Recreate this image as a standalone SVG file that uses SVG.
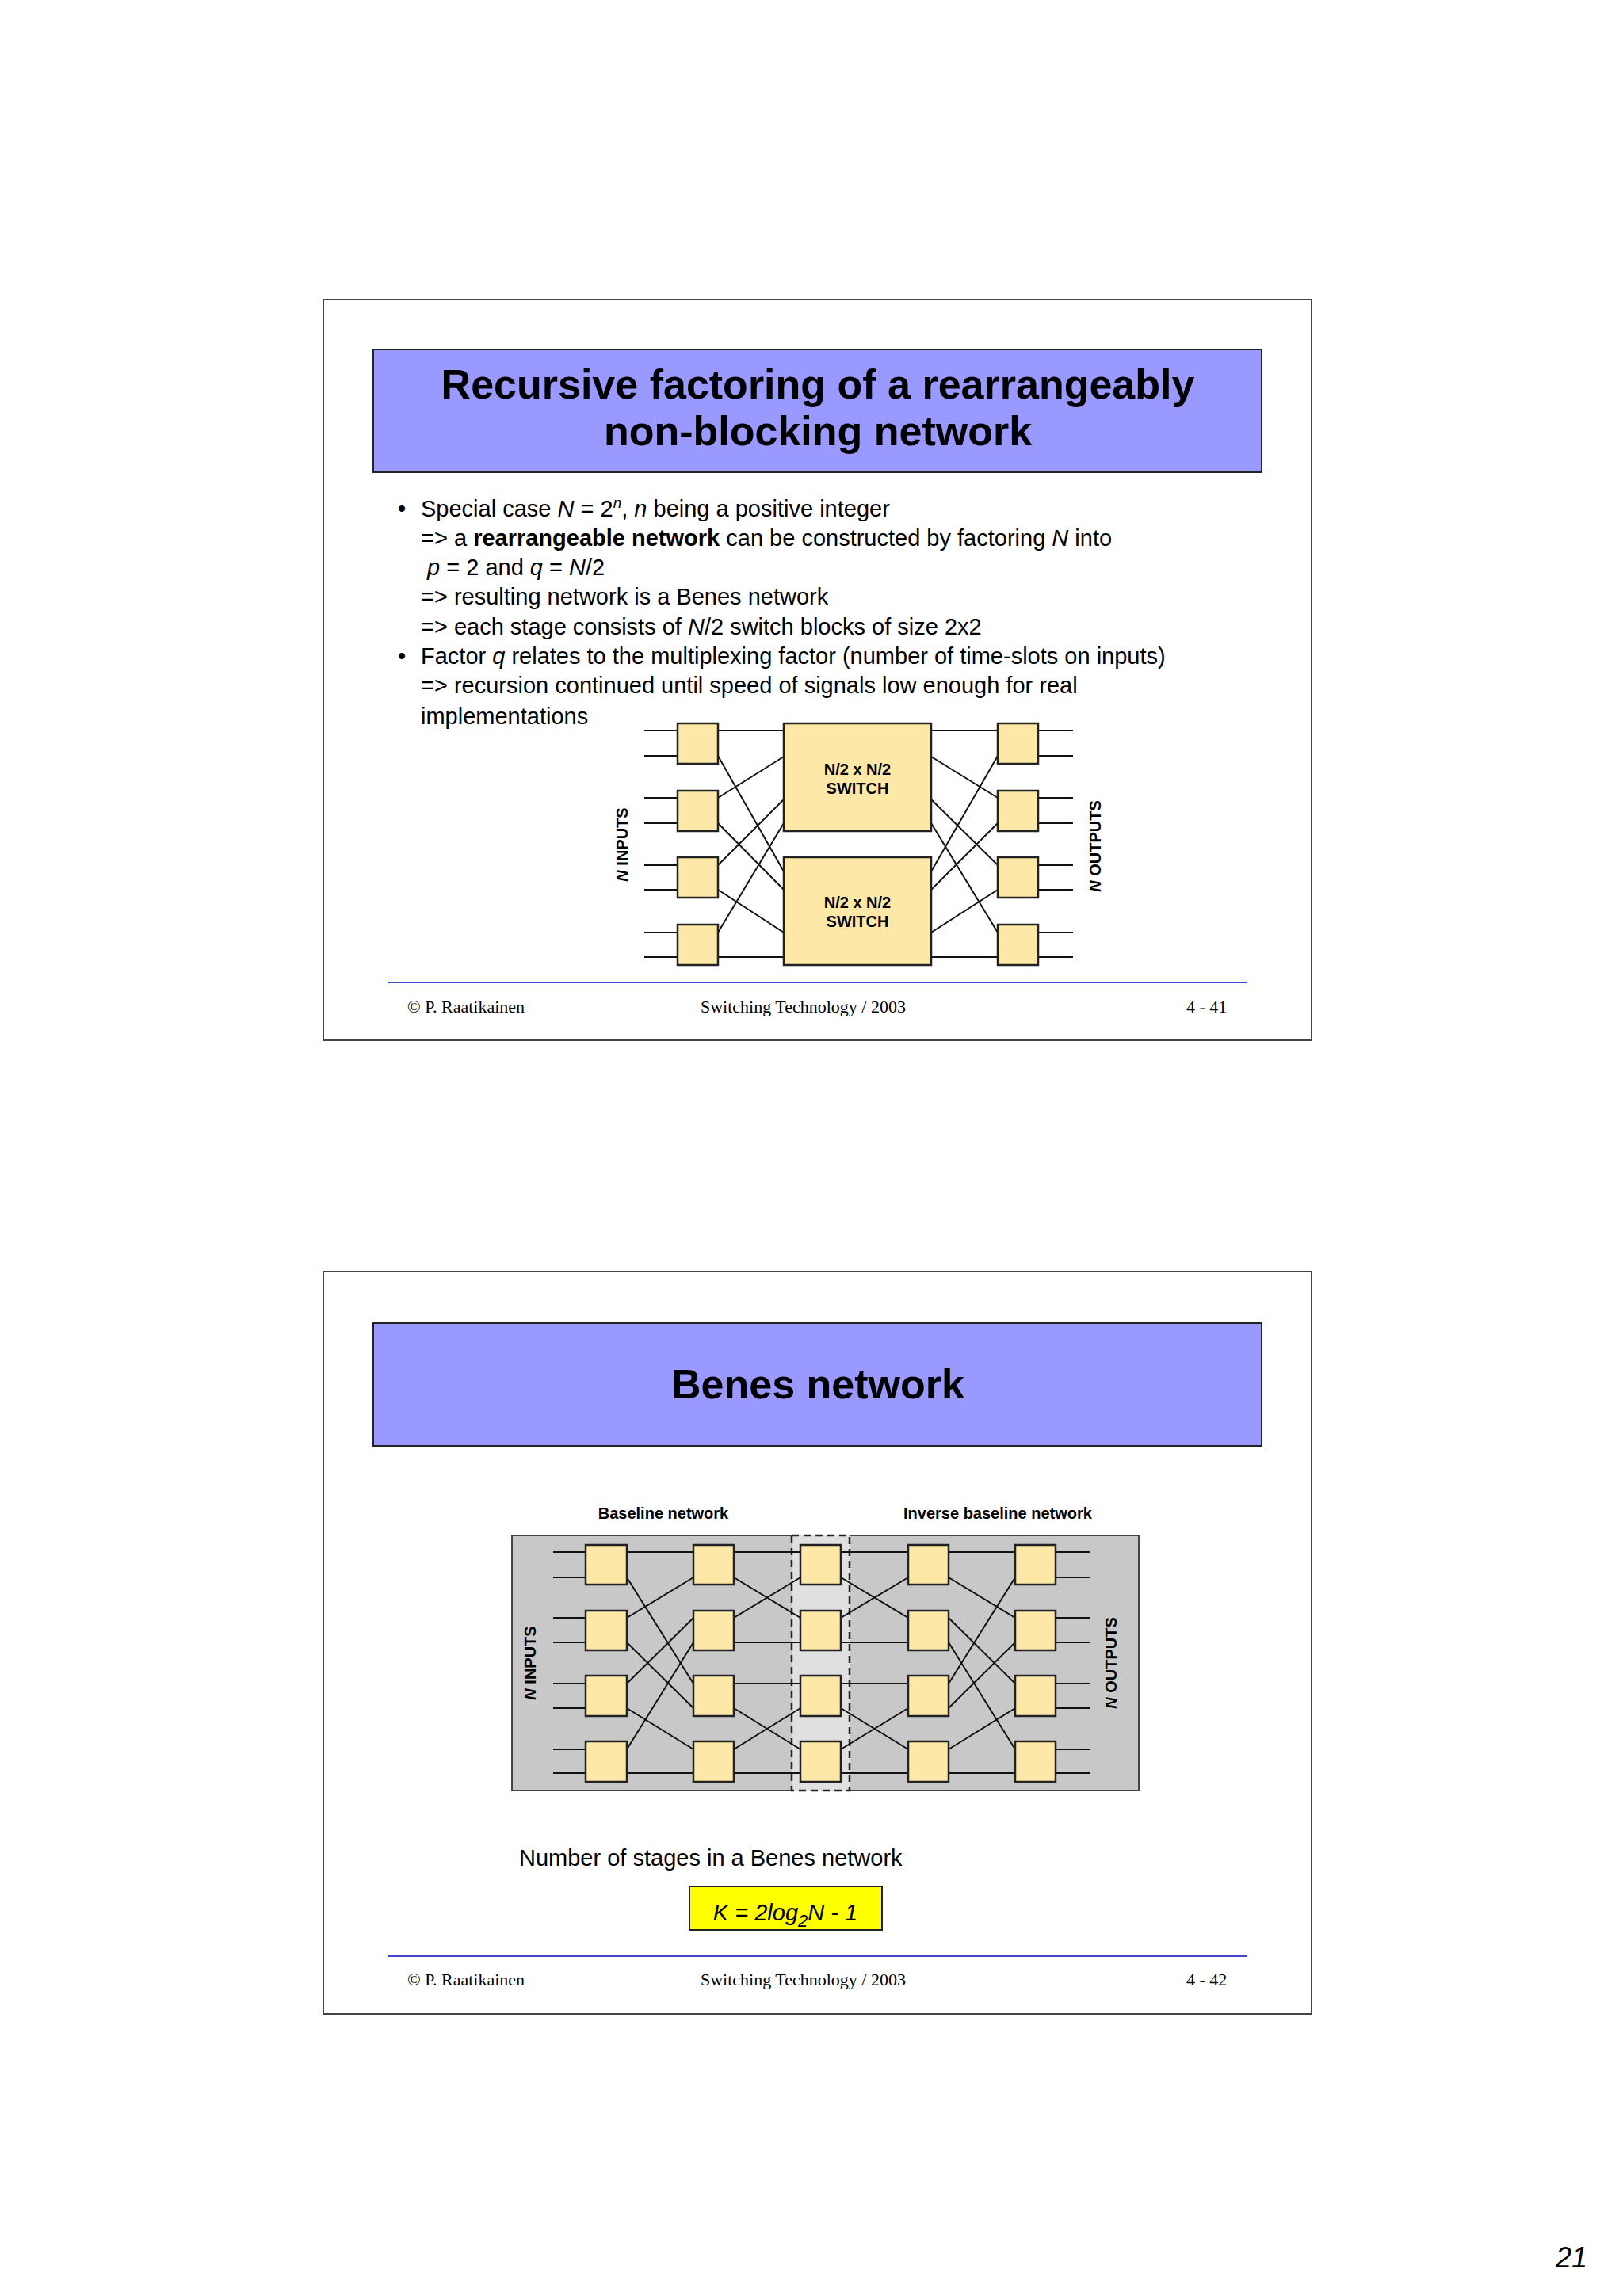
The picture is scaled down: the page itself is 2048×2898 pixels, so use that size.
<svg xmlns="http://www.w3.org/2000/svg" width="2048" height="2898" viewBox="0 0 2048 2898">
<style>
.frame{fill:#fff;stroke:#444;stroke-width:2}
.tbox{fill:#9999ff;stroke:#222;stroke-width:2}
.title{font-family:"Liberation Sans",Arial,sans-serif;font-weight:bold;font-size:52px;fill:#000;text-anchor:middle}
.body{font-family:"Liberation Sans",Arial,sans-serif;font-size:29px;fill:#000}
.foot{font-family:"Liberation Serif","Times New Roman",serif;font-size:22px;fill:#000}
.sw{fill:#fde8a8;stroke:#222;stroke-width:2.5}
.ln{stroke:#111;stroke-width:2;fill:none}
.lbl{font-family:"Liberation Sans",Arial,sans-serif;font-weight:bold;font-size:20px;fill:#000;text-anchor:middle}
.hl{stroke:#4444cc;stroke-width:2}
</style>
<rect width="2048" height="2898" fill="#fff"/>
<g id="slide1">
<rect class="frame" x="408" y="378" width="1247" height="935"/>
<rect class="tbox" x="471" y="441" width="1121" height="155"/>
<text class="title" x="1032" y="503">Recursive factoring of a rearrangeably</text>
<text class="title" x="1032" y="562">non-blocking network</text>
<g class="body">
<text x="502" y="652">•</text>
<text x="531" y="652">Special case <tspan font-style="italic">N</tspan> = 2<tspan font-style="italic" font-size="19" dy="-11">n</tspan><tspan dy="11">, </tspan><tspan font-style="italic">n</tspan> being a positive integer</text>
<text x="531" y="689">=&gt; a <tspan font-weight="bold">rearrangeable network</tspan> can be constructed by factoring  <tspan font-style="italic">N</tspan> into</text>
<text x="539" y="726"><tspan font-style="italic">p</tspan> = 2 and <tspan font-style="italic">q</tspan> = <tspan font-style="italic">N</tspan>/2</text>
<text x="531" y="763">=&gt; resulting network is a Benes network</text>
<text x="531" y="801">=&gt; each stage consists of <tspan font-style="italic">N</tspan>/2 switch blocks of size 2x2</text>
<text x="502" y="838">•</text>
<text x="531" y="838">Factor <tspan font-style="italic">q</tspan> relates to the multiplexing factor (number of time-slots on inputs)</text>
<text x="531" y="875">=&gt; recursion continued until speed of signals low enough for real</text>
<text x="531" y="914">implementations</text>
</g>
<line class="hl" x1="490" y1="1240" x2="1573" y2="1240"/>
<text class="foot" x="514" y="1278">©  P. Raatikainen</text>
<text class="foot" x="884" y="1278">Switching Technology  / 2003</text>
<text class="foot" x="1497" y="1278">4 - 41</text>
</g>
<g id="connectors1">
<path class="ln" d="M813 922H855M813 954H855M813 1007H855M813 1039H855M813 1092H855M813 1123H855M813 1177H855M813 1208H855"/>
<path class="ln" d="M1310 922H1354M1310 954H1354M1310 1007H1354M1310 1039H1354M1310 1092H1354M1310 1123H1354M1310 1177H1354M1310 1208H1354"/>
<path class="ln" d="M906 922L989 922M906 954L989 1100M906 1007L989 955M906 1039L989 1123M906 1092L989 1009M906 1123L989 1177M906 1177L989 1039M906 1208L989 1208"/>
<path class="ln" d="M1259 922L1175 922M1259 954L1175 1100M1259 1007L1175 955M1259 1039L1175 1123M1259 1092L1175 1009M1259 1123L1175 1177M1259 1177L1175 1039M1259 1208L1175 1208"/>
</g>
<g id="switches1">
<rect class="sw" x="855" y="913" width="51" height="51"/>
<rect class="sw" x="855" y="998" width="51" height="51"/>
<rect class="sw" x="855" y="1082" width="51" height="51"/>
<rect class="sw" x="855" y="1167" width="51" height="51"/>
<rect class="sw" x="1259" y="913" width="51" height="51"/>
<rect class="sw" x="1259" y="998" width="51" height="51"/>
<rect class="sw" x="1259" y="1082" width="51" height="51"/>
<rect class="sw" x="1259" y="1167" width="51" height="51"/>
</g>
<g id="big1"><rect class="sw" x="989" y="913" width="186" height="136"/><text class="lbl" x="1082" y="978">N/2 x N/2</text><text class="lbl" x="1082" y="1002">SWITCH</text></g>
<g id="big2"><rect class="sw" x="989" y="1082" width="186" height="136"/><text class="lbl" x="1082" y="1146">N/2 x N/2</text><text class="lbl" x="1082" y="1170">SWITCH</text></g>
<text class="lbl" transform="translate(792 1066) rotate(-90)"><tspan font-style="italic">N</tspan> INPUTS</text>
<text class="lbl" transform="translate(1389 1068) rotate(-90)"><tspan font-style="italic">N</tspan> OUTPUTS</text>

<g id="slide2">
<rect class="frame" x="408" y="1605" width="1247" height="937"/>
<rect class="tbox" x="471" y="1670" width="1121" height="155"/>
<text class="title" x="1032" y="1765">Benes network</text>
<text class="lbl" x="837" y="1917" font-size="26">Baseline network</text>
<text class="lbl" x="1259" y="1917" font-size="26">Inverse baseline network</text>
<rect x="646" y="1938" width="791" height="322" fill="#c8c8c8" stroke="#444" stroke-width="2"/>
<rect x="999" y="1938" width="73" height="322" fill="#e0e0e0" stroke="#222" stroke-width="2.5" stroke-dasharray="9 6"/>
<text class="body" x="655" y="2355" font-size="33">Number of stages in a Benes network</text>
<rect x="870" y="2381" width="243" height="55" fill="#ffff00" stroke="#222" stroke-width="2"/>
<text class="body" x="991" y="2424" font-size="33" font-style="italic" text-anchor="middle">K = 2log<tspan font-size="22" dy="8">2</tspan><tspan dy="-8">N - 1</tspan></text>
<line class="hl" x1="490" y1="2469" x2="1573" y2="2469"/>
<text class="foot" x="514" y="2506">©  P. Raatikainen</text>
<text class="foot" x="884" y="2506">Switching Technology  / 2003</text>
<text class="foot" x="1497" y="2506">4 - 42</text>
</g>
<g id="connectors2">
<path class="ln" d="M698 1959H739M698 1991H739M698 2042H739M698 2073H739M698 2125H739M698 2156H739M698 2208H739M698 2238H739"/>
<path class="ln" d="M1332 1959H1375M1332 1991H1375M1332 2042H1375M1332 2073H1375M1332 2125H1375M1332 2156H1375M1332 2208H1375M1332 2238H1375"/>
<path class="ln" d="M791 1959L875 1959M791 1991L875 2125M791 2042L875 1991M791 2073L875 2156M791 2125L875 2042M791 2156L875 2208M791 2208L875 2073M791 2238L875 2238"/>
<path class="ln" d="M926 1959L1010 1959M926 1991L1010 2042M926 2042L1010 1991M926 2073L1010 2073M926 2125L1010 2125M926 2156L1010 2208M926 2208L1010 2156M926 2238L1010 2238"/>
<path class="ln" d="M1061 1959L1146 1959M1061 1991L1146 2042M1061 2042L1146 1991M1061 2073L1146 2073M1061 2125L1146 2125M1061 2156L1146 2208M1061 2208L1146 2156M1061 2238L1146 2238"/>
<path class="ln" d="M1281 1959L1197 1959M1281 1991L1197 2125M1281 2042L1197 1991M1281 2073L1197 2156M1281 2125L1197 2042M1281 2156L1197 2208M1281 2208L1197 2073M1281 2238L1197 2238"/>
</g>
<g id="switches2">
<rect class="sw" x="739" y="1950" width="52" height="50"/><rect class="sw" x="739" y="2033" width="52" height="50"/><rect class="sw" x="739" y="2115" width="52" height="51"/><rect class="sw" x="739" y="2198" width="52" height="51"/>
<rect class="sw" x="875" y="1950" width="51" height="50"/><rect class="sw" x="875" y="2033" width="51" height="50"/><rect class="sw" x="875" y="2115" width="51" height="51"/><rect class="sw" x="875" y="2198" width="51" height="51"/>
<rect class="sw" x="1010" y="1950" width="51" height="50"/><rect class="sw" x="1010" y="2033" width="51" height="50"/><rect class="sw" x="1010" y="2115" width="51" height="51"/><rect class="sw" x="1010" y="2198" width="51" height="51"/>
<rect class="sw" x="1146" y="1950" width="51" height="50"/><rect class="sw" x="1146" y="2033" width="51" height="50"/><rect class="sw" x="1146" y="2115" width="51" height="51"/><rect class="sw" x="1146" y="2198" width="51" height="51"/>
<rect class="sw" x="1281" y="1950" width="51" height="50"/><rect class="sw" x="1281" y="2033" width="51" height="50"/><rect class="sw" x="1281" y="2115" width="51" height="51"/><rect class="sw" x="1281" y="2198" width="51" height="51"/>
</g>
<text class="lbl" transform="translate(676 2099) rotate(-90)"><tspan font-style="italic">N</tspan> INPUTS</text>
<text class="lbl" transform="translate(1409 2099) rotate(-90)"><tspan font-style="italic">N</tspan> OUTPUTS</text>
<text x="1983" y="2862" font-family="Liberation Sans, Arial, sans-serif" font-style="italic" font-size="36" text-anchor="middle">21</text>
</svg>
